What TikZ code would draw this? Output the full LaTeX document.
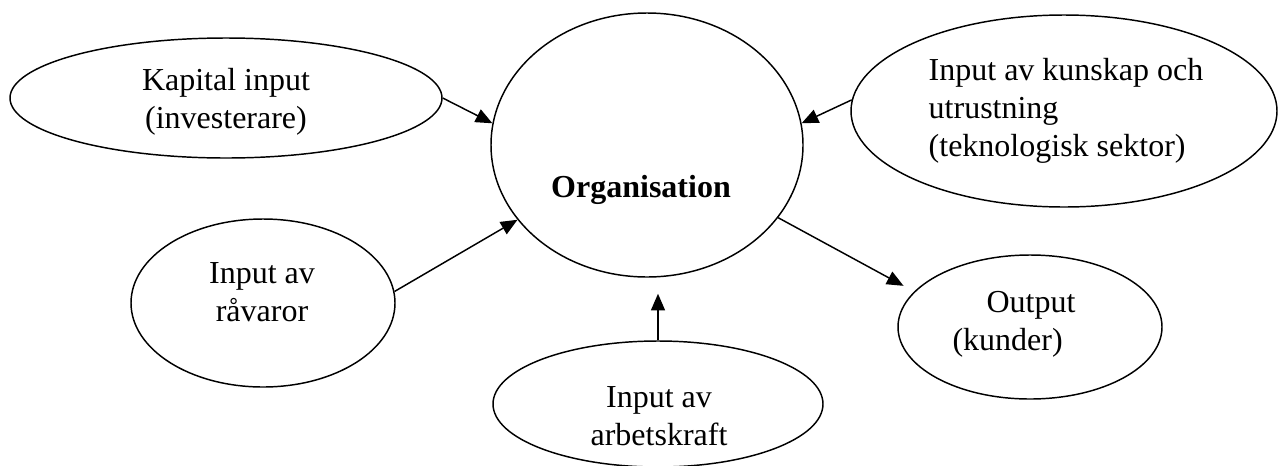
\documentclass[tikz,border=0pt]{standalone}
\usepackage{fontspec}
\setmainfont{Liberation Serif}
\usetikzlibrary{shapes.geometric,arrows.meta}
\begin{document}
\begin{tikzpicture}[x=0.75pt,y=-0.75pt,
  oval/.style={draw,ellipse,inner sep=0pt,line width=1.1pt},
  txt/.style={inner sep=0pt,font=\fontsize{24}{28.5}\selectfont},
  conn/.style={line width=1.1pt,-{Triangle[length=12.5pt,width=10.5pt]}}]
\useasboundingbox (0,0) rectangle (1278,465);
% ellipses
\node[oval,minimum width=324pt,minimum height=90pt] (kap) at (226,98) {};
\node[oval,minimum width=234pt,minimum height=198pt] (org) at (647,145) {};
\node[oval,minimum width=319.5pt,minimum height=144pt] (kun) at (1064,111) {};
\node[oval,minimum width=198pt,minimum height=126pt] (rav) at (263,303) {};
\node[oval,minimum width=198pt,minimum height=108pt] (out) at (1030,327) {};
\node[oval,minimum width=247.5pt,minimum height=94.5pt] (arb) at (658,404) {};
% texts
\node[txt,align=center] (kapt) at (226,102) {Kapital input\\(investerare)};
\node[txt,anchor=base,font=\fontsize{24}{28.5}\selectfont\bfseries] (orgt) at (641,197) {Organisation};
\node[txt,align=left] (kunt) at (1066,111) {Input av kunskap och\\utrustning\\(teknologisk sektor)};
\node[txt,align=center] (ravt) at (262,292) {Input av\\råvaror};
\node[txt,align=left] (outt) at (1014,324) {\hspace*{25.5pt}Output\\(kunder)};
\node[txt,align=center] (arbt) at (659,416) {Input av\\arbetskraft};
% connectors
\draw[conn] (kap.east) -- (org.172);
\draw[conn] (kun.177) -- (org.8);
\draw[conn] (rav.5) -- (org.210);
\draw[conn,shorten >=9pt] (org.331) -- (out.163);
\draw[conn,shorten >=12pt] (arb.north) -- (arb.north |- org.south);
\end{tikzpicture}
\end{document}
